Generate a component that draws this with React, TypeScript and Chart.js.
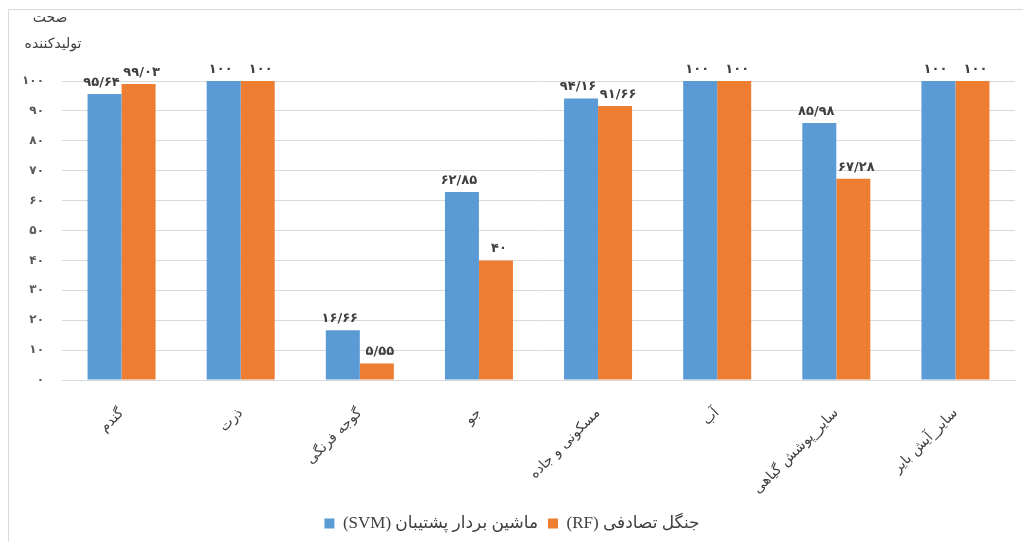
import React, { useEffect, useRef } from "react";
import { Chart, registerables } from "chart.js";

Chart.register(...registerables);

const categories = [
  "گندم",
  "ذرت",
  "گوجه فرنگی",
  "جو",
  "مسکونی و جاده",
  "آب",
  "سایر_پوشش گیاهی",
  "سایر_آیش بایر",
];
const svmValues = [95.64, 100, 16.66, 62.85, 94.16, 100, 85.98, 100];
const rfValues = [99.03, 100, 5.55, 40, 91.66, 100, 67.28, 100];
const seriesNames = ["(SVM) ماشین بردار پشتیبان", "(RF) جنگل تصادفی"];
const axisTitleLines = ["صحت", "تولیدکننده"];

const FA_DIGITS = "۰۱۲۳۴۵۶۷۸۹";
const toFa = (v: number) => {
  const s = Number.isInteger(v) ? String(v) : v.toFixed(2);
  return s.replace(".", "/").replace(/[0-9]/g, (d) => FA_DIGITS[+d]);
};

const FONT = "'DejaVu Sans', sans-serif";
const LEGEND_FONT = "'Liberation Serif', 'DejaVu Sans', serif";

const labelsPlugin = {
  id: "valueLabels",
  afterDatasetsDraw(chart: any) {
    const ctx = chart.ctx;
    ctx.save();
    ctx.font = `bold 13px ${FONT}`;
    ctx.fillStyle = "#404040";
    ctx.textAlign = "center";
    ctx.textBaseline = "bottom";
    chart.data.datasets.forEach((ds: any, di: number) => {
      const meta = chart.getDatasetMeta(di);
      const shift = di === 0 ? -3 : 3;
      meta.data.forEach((el: any, i: number) => {
        ctx.fillText(toFa(ds.data[i]), el.x + shift, el.y - 5);
      });
    });
    // axis title (two lines, top-left)
    ctx.font = `14px ${FONT}`;
    ctx.textBaseline = "middle";
    ctx.fillText(axisTitleLines[0], 41, 8);
    ctx.fillText(axisTitleLines[1], 44, 34);
    ctx.restore();
  },
};

export default function App() {
  const ref = useRef<HTMLCanvasElement | null>(null);
  useEffect(() => {
    document.body.style.overflow = "hidden";
    document.documentElement.style.overflow = "hidden";
    const chart = new Chart(ref.current!, {
      type: "bar",
      data: {
        labels: categories,
        datasets: [
          {
            label: seriesNames[0],
            data: svmValues,
            backgroundColor: "#5B9BD5",
            borderColor: "#5B9BD5",
            borderWidth: 0,
            categoryPercentage: 0.571,
            barPercentage: 1,
          },
          {
            label: seriesNames[1],
            data: rfValues,
            backgroundColor: "#ED7D31",
            borderColor: "#ED7D31",
            borderWidth: 0,
            categoryPercentage: 0.571,
            barPercentage: 1,
          },
        ],
      },
      options: {
        animation: false,
        responsive: false,
        maintainAspectRatio: false,
        layout: { padding: { top: 71, left: 0, right: 8, bottom: 0 } },
        plugins: {
          tooltip: { enabled: false },
          legend: {
            position: "bottom",
            labels: {
              boxWidth: 10,
              boxHeight: 10,
              padding: 10,
              color: "#404040",
              font: { size: 17, family: LEGEND_FONT },
            },
          },
        },
        scales: {
          x: {
            grid: { display: false, drawTicks: false },
            border: { display: true, color: "#d9d9d9" },
            ticks: {
              minRotation: 45,
              maxRotation: 45,
              autoSkip: false,
              padding: 25,
              color: "#404040",
              font: { size: 14, family: FONT },
            },
            afterFit: (s: any) => {
              s.height = 125;
            },
          },
          y: {
            min: 0,
            max: 100,
            grid: { color: "#d9d9d9", drawTicks: false },
            border: { display: false },
            ticks: {
              stepSize: 10,
              padding: 18,
              color: "#595959",
              font: { size: 12, family: FONT, weight: "bold" },
              callback: (v: any) => toFa(Number(v)),
            },
            afterFit: (s: any) => {
              s.width = 53;
            },
          },
        },
      },
      plugins: [labelsPlugin],
    });
    return () => chart.destroy();
  }, []);
  return (
    <div
      style={{
        position: "fixed",
        left: 8,
        top: 9,
        right: 0,
        bottom: 0,
        borderTop: "1px solid #d9d9d9",
        borderLeft: "1px solid #d9d9d9",
        overflow: "hidden",
      }}
    >
      <canvas ref={ref} width={1014} height={532} style={{ display: "block" }} />
    </div>
  );
}
